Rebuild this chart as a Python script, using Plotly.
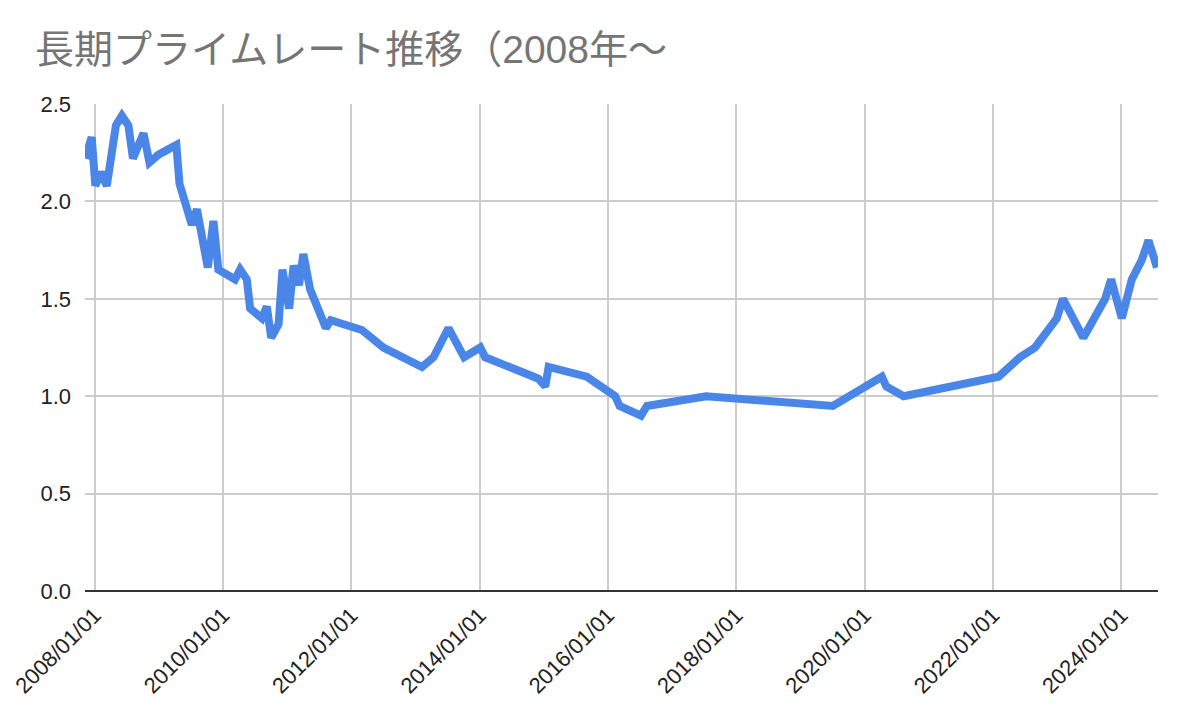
import plotly.graph_objects as go

# Long-term prime rate
dates = [
    "2007-11-09", "2007-12-15", "2008-01-05", "2008-02-05", "2008-03-10",
    "2008-05-01", "2008-06-04", "2008-07-11", "2008-08-06", "2008-10-05",
    "2008-11-08", "2008-12-29", "2009-04-10", "2009-04-28", "2009-07-07",
    "2009-08-05", "2009-10-06", "2009-11-07", "2009-12-05", "2010-03-10",
    "2010-04-08", "2010-05-16", "2010-06-04", "2010-08-10", "2010-09-07",
    "2010-10-02", "2010-11-13", "2010-12-05", "2011-01-12", "2011-02-06",
    "2011-03-09", "2011-04-03", "2011-05-11", "2011-06-09", "2011-08-09",
    "2011-09-06", "2012-03-01", "2012-07-02", "2012-11-03", "2013-02-06",
    "2013-04-13", "2013-07-07", "2013-10-04", "2014-01-04", "2014-02-01",
    "2014-12-01", "2015-01-09", "2015-01-28", "2015-09-02", "2016-02-11",
    "2016-03-07", "2016-07-07", "2016-08-10", "2017-07-13", "2019-07-04",
    "2020-04-08", "2020-05-03", "2020-08-10", "2022-02-01", "2022-06-04",
    "2022-08-28", "2022-12-30", "2023-02-03", "2023-05-30", "2023-10-01",
    "2023-11-04", "2024-01-04", "2024-03-01", "2024-04-27", "2024-06-04",
    "2024-07-22",
]
rates = [
    2.22, 2.33, 2.08, 2.15, 2.08,
    2.39, 2.44, 2.39, 2.22, 2.35,
    2.20, 2.24, 2.29, 2.09, 1.88,
    1.96, 1.66, 1.90, 1.65, 1.60,
    1.65, 1.60, 1.45, 1.40, 1.46,
    1.30, 1.37, 1.65, 1.45, 1.67,
    1.57, 1.73, 1.55, 1.49, 1.35,
    1.39, 1.34, 1.25, 1.19, 1.15,
    1.20, 1.35, 1.20, 1.25, 1.20,
    1.09, 1.05, 1.15, 1.10, 1.00,
    0.95, 0.90, 0.95, 1.00, 0.95,
    1.10, 1.05, 1.00, 1.10, 1.20,
    1.25, 1.40, 1.50, 1.30, 1.50,
    1.60, 1.40, 1.60, 1.70, 1.80,
    1.66,
]

title_text = "長期プライムレート推移（2008年～"
font_fam = "Liberation Sans, Arial, Noto Sans CJK JP, sans-serif"

fig = go.Figure()
fig.add_trace(go.Scatter(
    x=dates, y=rates,
    mode="lines",
    line=dict(color="#4a86e8", width=8),
    hoverinfo="x+y",
))

# page body has an 8px margin, so the margins below are shifted by that
fig.update_layout(
    width=1178, height=726,
    margin=dict(l=77, r=28, t=96, b=143),
    paper_bgcolor="white",
    plot_bgcolor="white",
    showlegend=False,
    font=dict(family=font_fam, color="#222222", size=22),
    title=dict(
        text=title_text,
        font=dict(family="Liberation Sans, Noto Sans CJK JP", size=39, color="#757575"),
        x=27 / 1178, xref="container", xanchor="left",
        y=1 - 41 / 726, yref="container", yanchor="middle",
    ),
)

fig.update_xaxes(
    type="date",
    range=["2007-11-07", "2024-07-28"],
    tick0="2008-01-01", dtick="M24",
    tickformat="%Y/%m/%d",
    tickangle=-45,
    automargin=False,
    showgrid=True, gridcolor="#cccccc", gridwidth=1.5,
    showline=False, zeroline=False,
    ticklabelstandoff=6,
    tickfont=dict(size=22, color="#222222"),
)
fig.update_yaxes(
    range=[0, 2.5],
    tick0=0, dtick=0.5,
    tickformat=".1f",
    automargin=False,
    showgrid=True, gridcolor="#cccccc", gridwidth=1.5,
    zeroline=True, zerolinecolor="#333333", zerolinewidth=2,
    showline=False,
    ticklabelstandoff=13,
    tickfont=dict(size=22, color="#222222"),
)

fig.write_html("out.html")
